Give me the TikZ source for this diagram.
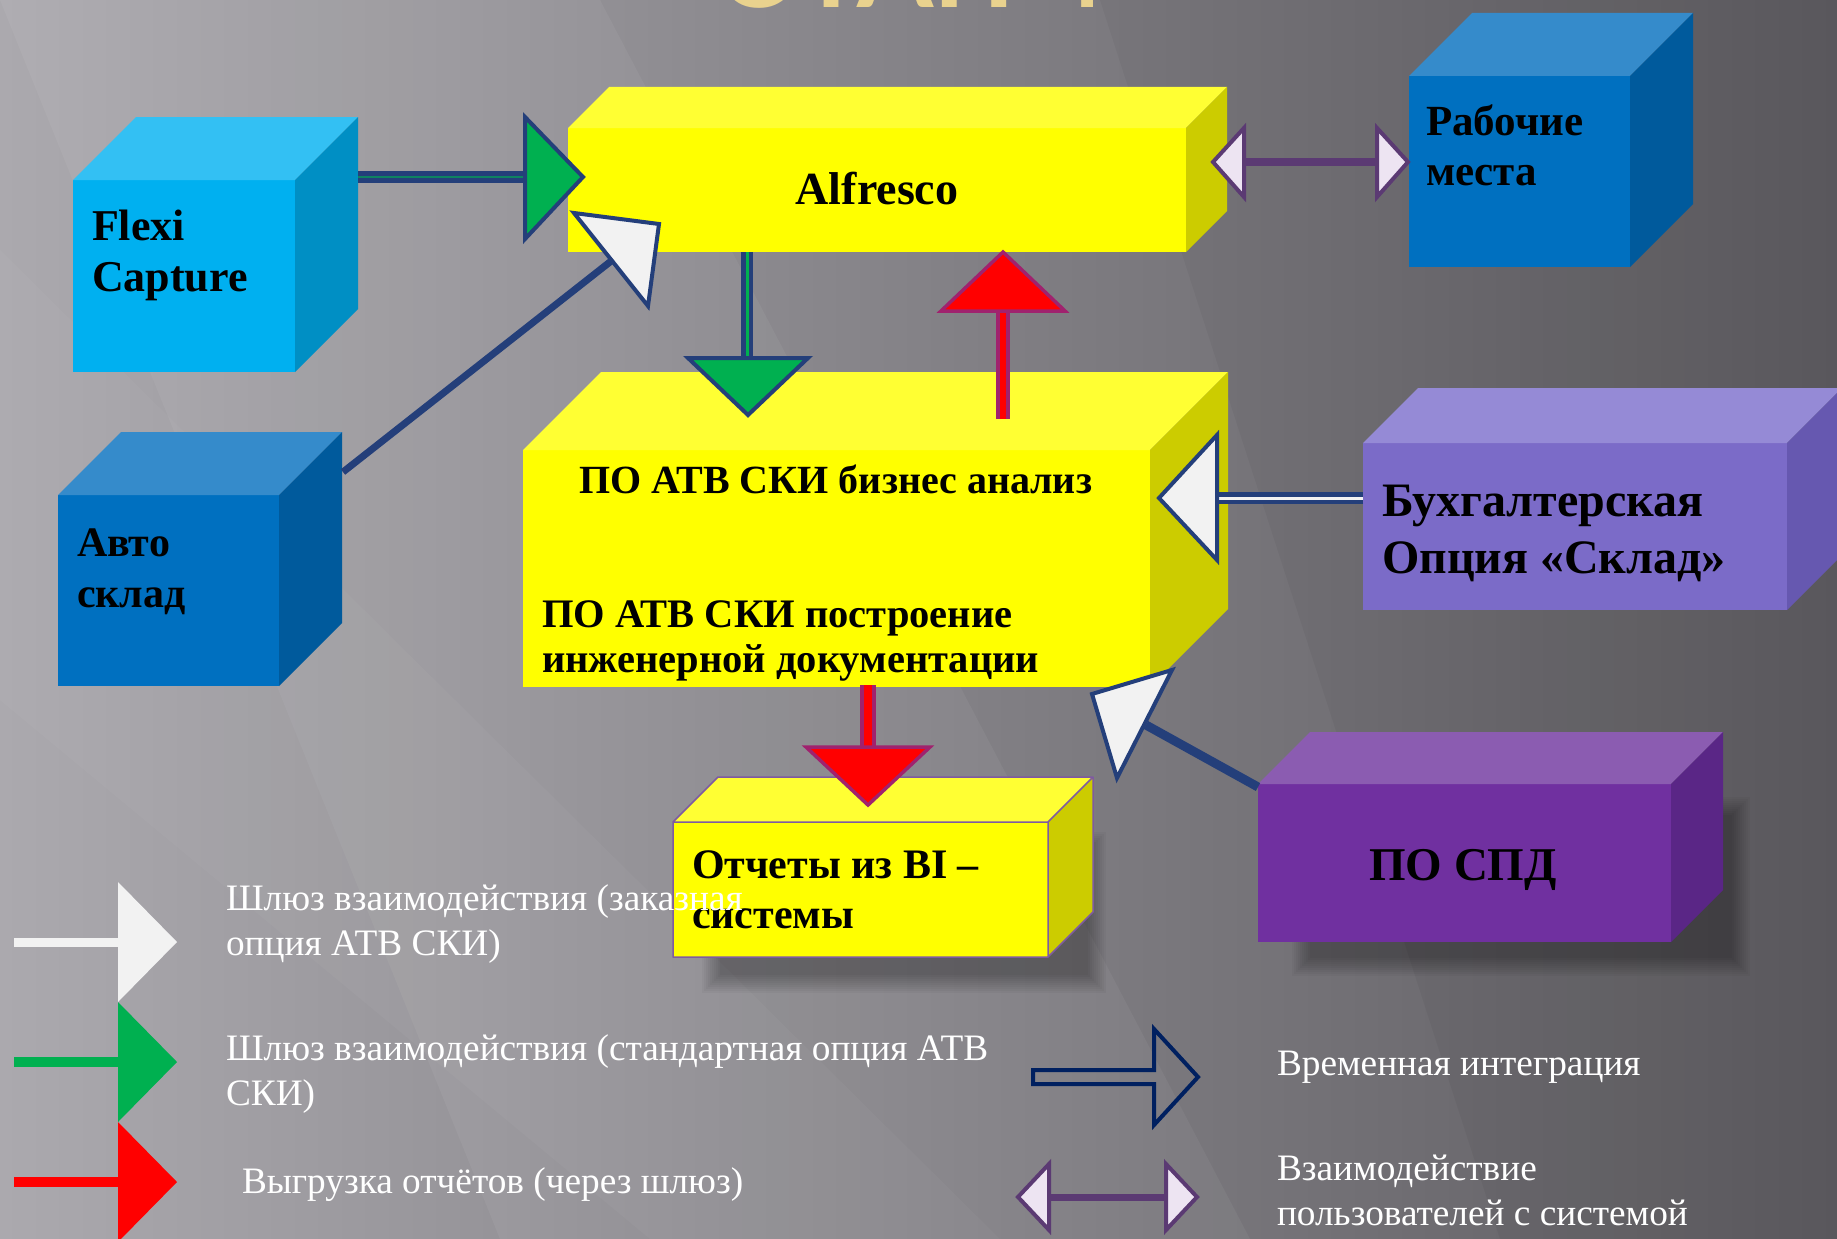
\documentclass[tikz,border=0pt]{standalone}
\usepackage{fontspec}
\setmainfont{Liberation Serif}
\newfontfamily\titlefont{Lato}
\usetikzlibrary{calc}
\definecolor{navy}{HTML}{243F7A}
\definecolor{gfill}{HTML}{00B050}
\definecolor{wfill}{HTML}{F2F2F2}
\definecolor{rfill}{HTML}{FF0000}
\definecolor{rline}{HTML}{A0226E}
\definecolor{pline}{HTML}{5B3A73}
\definecolor{pfill}{HTML}{EDE4F2}
\definecolor{lnavy}{HTML}{002060}
\definecolor{beige}{HTML}{E9D28E}
\definecolor{bgL}{HTML}{ABA9AE}
\definecolor{bgM}{HTML}{79777C}
\definecolor{bgR}{HTML}{5D5B60}
\definecolor{cyF}{HTML}{00B0F0}\definecolor{cyT}{HTML}{33C0F3}\definecolor{cyS}{HTML}{008FC4}
\definecolor{blF}{HTML}{0070C0}\definecolor{blT}{HTML}{358BCB}\definecolor{blS}{HTML}{005A9C}
\definecolor{yeF}{HTML}{FFFF00}\definecolor{yeT}{HTML}{FFFF33}\definecolor{yeS}{HTML}{CCCC00}
\definecolor{lvF}{HTML}{7B6BC8}\definecolor{lvT}{HTML}{958AD6}\definecolor{lvS}{HTML}{6658B0}
\definecolor{vpF}{HTML}{7030A0}\definecolor{vpT}{HTML}{8B5CB1}\definecolor{vpS}{HTML}{5A2686}
\definecolor{oline}{HTML}{7F5BA0}
% #1 name, #2 x1, #3 y1, #4 x2, #5 y2, #6 depth, #7 front, #8 top, #9 side
\newcommand\mycube[9]{%
  \node[fill=#7, inner sep=0, outer sep=0, minimum width={(#4-#2)*1pt}, minimum height={(#5-#3)*1pt}]
     (#1) at ({(#2+#4)/2},{(#3+#5)/2}) {};
  \fill[#8] (#1.north west) -- ++(#6,-#6) -- ($(#1.north east)+(#6,-#6)$) -- (#1.north east) -- cycle;
  \fill[#9] (#1.north east) -- ++(#6,-#6) -- ($(#1.south east)+(#6,-#6)$) -- (#1.south east) -- cycle;
}
\tikzset{
  headG/.style={fill=gfill, draw=navy, line width=4pt, line join=miter},
  headW/.style={fill=wfill, draw=navy, line width=4pt, line join=miter},
  headR/.style={fill=rfill, draw=rline, line width=3.5pt, line join=miter},
  headP/.style={fill=pfill, draw=pline, line width=4pt, line join=miter},
  boxtxt/.style={anchor=base west, inner sep=0, outer sep=0},
  legtxt/.style={anchor=base west, inner sep=0, outer sep=0, text=white, font=\fontsize{37.3}{42}\selectfont},
}
\begin{document}
\begin{tikzpicture}[x=1pt,y=-1pt]
\useasboundingbox (0,0) rectangle (1837,1239);
% background
\shade[left color=bgL, middle color=bgM, right color=bgR] (0,0) rectangle (1837,1239);
\fill[white, opacity=0.05] (0,0) -- (600,0) -- (1250,1239) -- (500,1239) -- cycle;
\fill[white, opacity=0.03] (0,250) -- (0,700) -- (650,1239) -- (1000,1239) -- cycle;
\fill[black, opacity=0.04] (1100,0) -- (1837,0) -- (1837,1239) -- (1500,1239) -- cycle;
% title (cut off at top)
\node[anchor=base, inner sep=0, text=beige, font=\titlefont\bfseries\fontsize{110}{120}\selectfont] (title) at (917,8) {ЭТАП 4};
% shadows
\foreach \k in {1,...,10}{\fill[black,opacity=0.03] ({1290+2*\k},{795+2*\k}) rectangle ({1752-2*\k},{978-2*\k});}
\foreach \k in {1,...,10}{\fill[black,opacity=0.03] ({700+2*\k},{830+2*\k}) rectangle ({1108-2*\k},{995-2*\k});}
% cubes
\mycube{flexi}{73}{180}{295}{372}{63}{cyF}{cyT}{cyS}
\mycube{avto}{58}{495}{279}{686}{63}{blF}{blT}{blS}
\mycube{alf}{568}{128}{1186}{252}{41}{yeF}{yeT}{yeS}
\mycube{rab}{1409}{76}{1630}{267}{63}{blF}{blT}{blS}
\mycube{ato}{523}{450}{1150}{687}{78}{yeF}{yeT}{yeS}
\mycube{buh}{1363}{443}{1787}{610}{55}{lvF}{lvT}{lvS}
\mycube{spd}{1258}{784}{1671}{942}{52}{vpF}{vpT}{vpS}
\mycube{otch}{673}{822}{1048}{957}{45}{yeF}{yeT}{yeS}
\draw[oline, line width=1.5pt, line join=round] (otch.south west) rectangle (otch.north east)
  (otch.north west) -- ++(45,-45) -- ($(otch.north east)+(45,-45)$) -- (otch.north east)
  ($(otch.north east)+(45,-45)$) -- ($(otch.south east)+(45,-45)$) -- (otch.south east);
% box texts
\node[boxtxt, font=\bfseries\fontsize{44}{50}\selectfont] (flexiA) at (92,240) {Flexi};
\node[boxtxt, font=\bfseries\fontsize{44}{50}\selectfont] (flexiB) at (92,291) {Capture};
\node[anchor=base, inner sep=0, font=\bfseries\fontsize{46}{50}\selectfont] (alfT) at (877,204) {Alfresco};
\node[boxtxt, font=\bfseries\fontsize{43}{50}\selectfont] (rabA) at (1426,135) {Рабочие};
\node[boxtxt, font=\bfseries\fontsize{43}{50}\selectfont] (rabB) at (1426,185) {места};
\node[boxtxt, font=\bfseries\fontsize{42}{50}\selectfont] (avtoA) at (77,556) {Авто};
\node[boxtxt, font=\bfseries\fontsize{42}{50}\selectfont] (avtoB) at (77,607) {склад};
\node[boxtxt, font=\bfseries\fontsize{40}{44}\selectfont] (atoA) at (579,493) {ПО АТВ СКИ бизнес анализ};
\node[boxtxt, font=\bfseries\fontsize{40.5}{44}\selectfont] (atoB) at (542,627) {ПО АТВ СКИ построение};
\node[boxtxt, font=\bfseries\fontsize{40.5}{44}\selectfont] (atoC) at (542,672) {инженерной документации};
\node[boxtxt, font=\bfseries\fontsize{48}{54}\selectfont] (buhA) at (1382,516) {Бухгалтерская};
\node[boxtxt, font=\bfseries\fontsize{48}{54}\selectfont] (buhB) at (1382,573) {Опция «Склад»};
\node[boxtxt, font=\bfseries\fontsize{42}{50}\selectfont] (otchA) at (692,878) {Отчеты из BI –};
\node[boxtxt, font=\bfseries\fontsize{42}{50}\selectfont] (otchB) at (692,928) {системы};
\node[anchor=base, inner sep=0, font=\bfseries\fontsize{47}{54}\selectfont] (spdT) at (1463,880) {ПО СПД};
% connector end points
\coordinate (a1s) at (358,177); \coordinate (a1e) at (530,177);
\coordinate (a2s) at (343,472); \coordinate (a2e) at (615,258);
\coordinate (a3s) at (747,252); \coordinate (a3e) at (747,362);
\coordinate (a4s) at (1003,419); \coordinate (a4e) at (1003,309);
\coordinate (a5s) at (1363,498); \coordinate (a5e) at (1213,498);
\coordinate (a6s) at (1258,787); \coordinate (a6e) at (1146,725);
\coordinate (a7s) at (868,685); \coordinate (a7e) at (868,750);
\coordinate (a8s) at (1240,162); \coordinate (a8e) at (1381,162);
% A1 Flexi -> Alfresco
\draw[navy, line width=12pt] (a1s) -- (a1e);
\draw[gfill!60!navy, line width=2pt] (a1s) -- (a1e);
\draw[headG] (525,117) -- (583,177) -- (525,239) -- cycle;
% A2 Avto -> Alfresco
\draw[navy, line width=7pt] (a2s) -- (a2e);
\draw[headW] (574,213) -- (659,224) -- (648,306) -- cycle;
% A3 Alfresco -> ATO (green)
\draw[navy, line width=12pt] (a3s) -- (a3e);
\draw[gfill, line width=3pt] (a3s) -- (a3e);
\draw[headG] (688,358) -- (808,358) -- (748,415) -- cycle;
% A4 ATO -> Alfresco (red)
\draw[rline, line width=14pt] (a4s) -- (a4e);
\draw[rfill, line width=6pt] (a4s) -- (a4e);
\draw[headR] (941,311) -- (1065,311) -- (1003,252) -- cycle;
% A5 Buh -> ATO
\draw[navy, line width=12pt] (a5s) -- (a5e);
\draw[wfill, line width=3pt] (a5s) -- (a5e);
\draw[headW] (1217,435) -- (1217,560) -- (1159,498) -- cycle;
% A6 SPD -> ATO
\draw[navy, line width=9pt] (a6s) -- (a6e);
\draw[headW] (1092,694) -- (1172,670) -- (1117,778) -- cycle;
% A7 ATO -> Otch (red)
\draw[rline, line width=16pt] (a7s) -- (a7e);
\draw[rfill, line width=8pt] (a7s) -- (a7e);
\draw[headR] (806,747) -- (930,747) -- (868,805) -- cycle;
% A8 Alfresco <-> Rab
\draw[pline, line width=8pt] (a8s) -- (a8e);
\draw[headP] (1244,128) -- (1244,197) -- (1213,162) -- cycle;
\draw[headP] (1377,128) -- (1377,197) -- (1408,162) -- cycle;
% legend arrows
\coordinate (l1s) at (14,942); \coordinate (l1e) at (120,942);
\draw[wfill, line width=9pt] (l1s) -- (l1e);
\fill[wfill] (118,882) -- (177,942) -- (118,1002) -- cycle;
\coordinate (l2s) at (14,1062); \coordinate (l2e) at (120,1062);
\draw[gfill, line width=10pt] (l2s) -- (l2e);
\fill[gfill] (118,1002) -- (177,1062) -- (118,1122) -- cycle;
\coordinate (l3s) at (14,1182); \coordinate (l3e) at (120,1182);
\draw[rfill, line width=10pt] (l3s) -- (l3e);
\fill[rfill] (118,1122) -- (177,1182) -- (118,1242) -- cycle;
\coordinate (l4s) at (1033,1077);
\draw[lnavy, line width=4pt, line join=miter] (l4s) ++(0,-7) -- (1154,1070) -- (1154,1029) -- (1198,1077) -- (1154,1125) -- (1154,1084) -- (1033,1084) -- cycle;
\coordinate (l5s) at (1045,1197); \coordinate (l5e) at (1170,1197);
\draw[pline, line width=7pt] (l5s) -- (l5e);
\draw[headP] (1049,1164) -- (1049,1230) -- (1018,1197) -- cycle;
\draw[headP] (1166,1164) -- (1166,1230) -- (1197,1197) -- cycle;
% legend texts
\node[legtxt] (t1a) at (226,910) {Шлюз взаимодействия (заказная};
\node[legtxt] (t1b) at (226,955) {опция АТВ СКИ)};
\node[legtxt] (t2a) at (226,1060) {Шлюз взаимодействия (стандартная опция АТВ};
\node[legtxt] (t2b) at (226,1105) {СКИ)};
\node[legtxt] (t3) at (242,1193) {Выгрузка отчётов (через шлюз)};
\node[legtxt] (t4) at (1277,1075) {Временная интеграция};
\node[legtxt] (t5a) at (1277,1180) {Взаимодействие};
\node[legtxt] (t5b) at (1277,1225) {пользователей с системой};
\end{tikzpicture}
\end{document}
